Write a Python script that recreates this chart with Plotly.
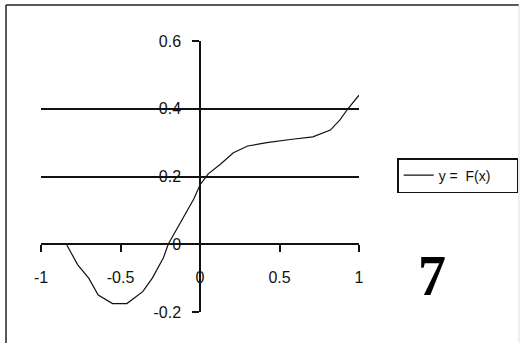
import plotly.graph_objects as go

# Curve y = F(x)
x_vals = [-1.0, -0.9, -0.84, -0.77, -0.70, -0.64, -0.55, -0.46, -0.36, -0.30, -0.23, -0.20,
          -0.11, -0.04, 0.0, 0.05, 0.13, 0.21, 0.30, 0.42, 0.58, 0.71, 0.82, 0.88, 0.93, 1.0]
y_vals = [0.0, 0.0, 0.0, -0.06, -0.10, -0.15, -0.175, -0.175, -0.14, -0.10, -0.04, 0.0,
          0.074, 0.133, 0.175, 0.207, 0.237, 0.27, 0.29, 0.30, 0.31, 0.317, 0.337, 0.367, 0.40, 0.44]

x_ticks = [-1, -0.5, 0, 0.5, 1]
x_tick_text = ["-1", "-0.5", "0", "0.5", "1"]
y_ticks = [-0.2, 0, 0.2, 0.4, 0.6]
y_tick_text = ["-0.2", "0", "0.2", "0.4", "0.6"]
grid_ticks = [0.2, 0.4]
series_name = "y\u00a0=\u00a0\u00a0F(x)"
big_label = "7"

font_family = "Liberation Sans, Arial, sans-serif"

fig = go.Figure()
fig.add_trace(go.Scatter(x=x_vals, y=y_vals, mode="lines", name=series_name,
                         line=dict(color="#111111", width=1.2), showlegend=True))
# invisible trace to drive the gridline axis
fig.add_trace(go.Scatter(x=[x_vals[0]], y=[y_vals[0]], yaxis="y2", mode="lines",
                         line=dict(width=0), showlegend=False, hoverinfo="skip"))

fig.update_layout(
    width=525, height=343,
    margin=dict(l=41, r=166, t=41, b=31, autoexpand=False),
    paper_bgcolor="white", plot_bgcolor="white",
    font=dict(family=font_family, size=16, color="#111111"),
    xaxis=dict(range=[-1, 1], anchor="free", position=0.25,
               tickvals=x_ticks, ticktext=x_tick_text,
               showline=True, linecolor="#111111", linewidth=1.5,
               ticks="outside", ticklen=7, tickwidth=1.5, tickcolor="#111111",
               ticklabelstandoff=12,
               showgrid=False, zeroline=False, automargin=False, fixedrange=True),
    yaxis=dict(range=[-0.2, 0.6], anchor="free", position=0.5,
               tickvals=y_ticks, ticktext=y_tick_text,
               showline=True, linecolor="#111111", linewidth=1.5,
               ticks="outside", ticklen=7, tickwidth=1.5, tickcolor="#111111",
               ticklabelstandoff=8,
               showgrid=False, zeroline=False, automargin=False, fixedrange=True),
    yaxis2=dict(range=[-0.2, 0.6], overlaying="y", tickvals=grid_ticks,
                showticklabels=False, ticks="", showline=False,
                showgrid=True, gridcolor="#111111", gridwidth=1.5,
                zeroline=False, automargin=False, fixedrange=True),
    legend=dict(x=1.12, xanchor="left", y=0.568, yanchor="top", orientation="h",
                bordercolor="#111111", borderwidth=1.5, bgcolor="white",
                font=dict(family=font_family, size=14, color="#111111"),
                itemwidth=30, entrywidth=73, entrywidthmode="pixels"),
    showlegend=True,
)

fig.add_annotation(text=big_label, xref="paper", yref="paper", x=1.23, y=0.133,
                   showarrow=False, xanchor="center", yanchor="middle",
                   font=dict(family="Liberation Serif, Times New Roman, serif", size=56,
                             color="black", weight="bold"))

# chart frame
fig.add_shape(type="line", xref="paper", yref="paper", x0=-0.110, x1=-0.110, y0=1.133, y1=-0.2,
              line=dict(color="#222222", width=1.5))
fig.add_shape(type="line", xref="paper", yref="paper", x0=-0.110, x1=1.503, y0=1.133, y1=1.133,
              line=dict(color="#222222", width=1.5))
fig.add_shape(type="line", xref="paper", yref="paper", x0=1.503, x1=1.503, y0=1.133, y1=-0.2,
              line=dict(color="#dddddd", width=1))

fig.write_html("out.html", config={"displayModeBar": False},
               post_script="document.body.style.margin='0';")
